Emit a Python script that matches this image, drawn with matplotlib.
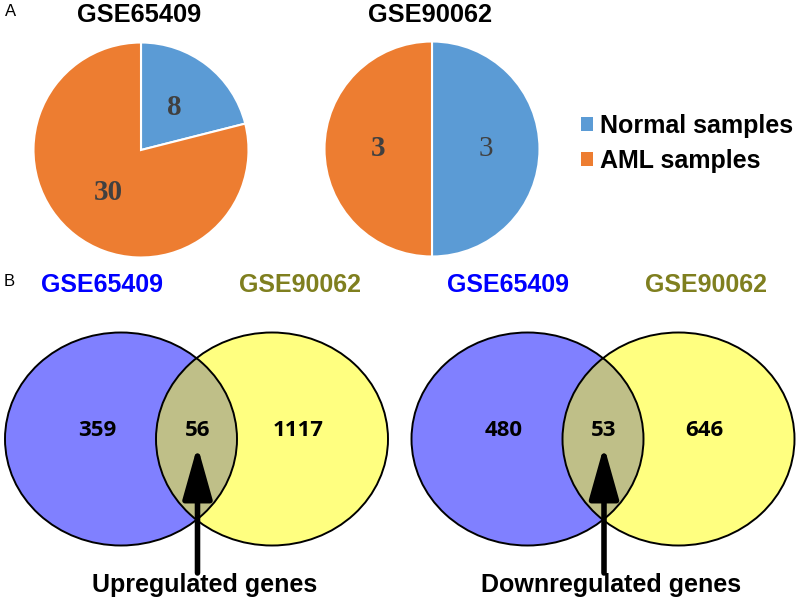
import matplotlib.pyplot as plt
from matplotlib.patches import Ellipse, Patch

# Panel A: sample counts
pie_titles = ['GSE65409', 'GSE90062']
normal_counts = [8, 3]
aml_counts = [30, 3]
pie_labels = ['Normal samples', 'AML samples']
pie_colors = ['#5B9BD5', '#ED7D31']

# Panel B: overlap of DEGs
venn_sets = ['GSE65409', 'GSE90062']
venn_titles = ['Upregulated genes', 'Downregulated genes']
only_left = [359, 480]
shared = [56, 53]
only_right = [1117, 646]

W, H = 800, 607
fig = plt.figure(figsize=(W / 100, H / 100), dpi=100)

# full-figure axes in pixel coordinates for the venn part and labels
ax = fig.add_axes([0, 0, 1, 1])
ax.set_xlim(0, W)
ax.set_ylim(H, 0)
ax.axis('off')

ax.text(11, 11, 'A', fontsize=12, ha='center', va='center', family='Liberation Sans')
ax.text(9, 281, 'B', fontsize=12, ha='center', va='center', family='Liberation Sans')

# pies
pie_centers = [(141, 150), (432, 149)]
r = 107.5
for i, (cx, cy) in enumerate(pie_centers):
    pax = fig.add_axes([(cx - r) / W, 1 - (cy + r) / H, 2 * r / W, 2 * r / H])
    vals = [normal_counts[i], aml_counts[i]]
    wedges, texts = pax.pie(vals, colors=pie_colors, startangle=90, counterclock=False,
                            labels=[str(v) for v in vals], labeldistance=0.5,
                            wedgeprops=dict(edgecolor='white', linewidth=1.5),
                            textprops=dict(fontsize=21, fontweight='bold', color='#404040',
                                           family='Liberation Serif'))
    for t in texts:
        t.set_ha('center')
        t.set_va('center')
    if i == 1:
        texts[0].set_fontweight('normal')
    pax.set_xlim(-1, 1)
    pax.set_ylim(-1, 1)
    ax.text(cx - 2, 15, pie_titles[i], fontsize=18.3, fontweight='bold', ha='center', va='center',
            family='Liberation Sans')

handles = [Patch(facecolor=c, edgecolor='none') for c in pie_colors]
ax.legend(handles, pie_labels, loc='center left', bbox_to_anchor=(558 / W, 1 - 143.5 / H),
          bbox_transform=fig.transFigure, frameon=False, handlelength=0.5, handleheight=0.5,
          handletextpad=0.3, labelspacing=0.45, borderpad=0.4,
          prop=dict(family='Liberation Sans', weight='bold', size=18))

# venn diagrams
venn_left = [(121, 439), (527.5, 439)]
venn_right = [(272, 439), (678.5, 439)]
ew, eh = 232, 213
for i in range(2):
    e1 = Ellipse(venn_left[i], ew, eh, facecolor='#8080FF', edgecolor='none')
    e2 = Ellipse(venn_right[i], ew, eh, facecolor='#FFFF80', edgecolor='none')
    ax.add_patch(e1)
    ax.add_patch(e2)
    lens = Ellipse(venn_right[i], ew, eh, facecolor='#BFBF88', edgecolor='none')
    ax.add_patch(lens)
    lens.set_clip_path(e1)
    for c in (venn_left[i], venn_right[i]):
        ax.add_patch(Ellipse(c, ew, eh, facecolor='none', edgecolor='black', linewidth=1.4))

    lx, rx = venn_left[i][0], venn_right[i][0]
    mx = (lx + rx) / 2
    yc = venn_left[i][1]
    num_font = dict(fontsize=16, fontweight='bold', ha='center', va='center', family='Open Sans')
    ax.text(lx - 24, yc - 9, str(only_left[i]), **num_font)
    ax.text(mx + 1, yc - 9, str(shared[i]), **num_font)
    ax.text(rx + 26, yc - 9, str(only_right[i]), **num_font)

    ax.text(lx - 19, 285, venn_sets[0], fontsize=18, fontweight='bold', color='#0000FF',
            ha='center', va='center', family='Liberation Sans')
    ax.text(rx + 28, 285, venn_sets[1], fontsize=18, fontweight='bold', color='#7F7F1F',
            ha='center', va='center', family='Liberation Sans')

    ax.annotate('', xy=(mx + 1, 446), xytext=(mx + 1, 573),
                arrowprops=dict(arrowstyle='-|>,head_length=3.2,head_width=0.9',
                                color='black', lw=4, shrinkA=0, shrinkB=0))
    ax.text(mx + 8, 585, venn_titles[i], fontsize=18, fontweight='bold', ha='center',
            va='center', family='Liberation Sans')

fig.savefig('out.png', dpi=100)
